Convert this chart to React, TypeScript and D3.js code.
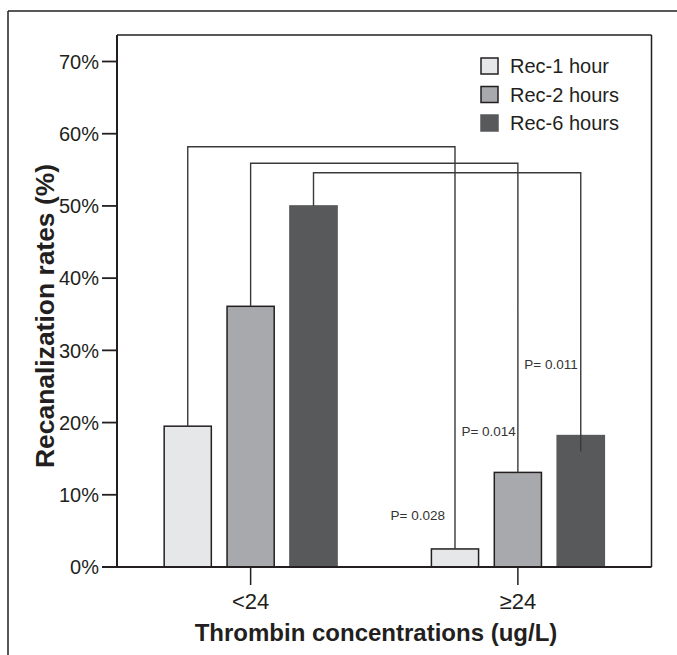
import React from "react";
import * as d3 from "d3";

const groups = ["<24", "≥24"];
const series = ["Rec-1 hour", "Rec-2 hours", "Rec-6 hours"];
const seriesColors = ["#e6e7e8", "#a7a9ac", "#58595b"];
const seriesStroke = ["#231f20", "#231f20", "#58595b"];
// values[group][series]
const valuesLow = [19.5, 36.1, 50.0];
const valuesHigh = [2.5, 13.1, 18.2];
const yTicks = [0, 10, 20, 30, 40, 50, 60, 70];
const bracketLevels = [58.2, 55.9, 54.6];
const bracketRightEnds = [2.5, 13.1, 16.0];
const pLabels = ["P= 0.028", "P= 0.014", "P= 0.011"];
const pLabelLevels = [7.1, 18.8, 28.1];

const W = 677;
const H = 655;
const plot = { left: 117, right: 651.5, top: 35, bottom: 567 };
const FONT = "'Liberation Sans', Arial, Helvetica, sans-serif";
const INK = "#231f20";

export default function App() {
  const y = d3.scaleLinear().domain([0, 70]).range([plot.bottom, 61.5]);
  const x0 = d3.scaleBand<string>().domain(groups).range([plot.left, plot.right]).padding(0);
  const x1 = d3
    .scaleBand<string>()
    .domain(series)
    .range([0, x0.bandwidth()])
    .paddingInner(0.25)
    .paddingOuter(0.75);

  const data = [valuesLow, valuesHigh];
  const cx = (g: number, s: number) => (x0(groups[g]) as number) + (x1(series[s]) as number) + x1.bandwidth() / 2;

  return (
    <svg
      width={W}
      height={H}
      style={{ position: "absolute", left: 0, top: 0, background: "#fff" }}
      fontFamily={FONT}
    >
      {/* outer frame */}
      <line x1={8} x2={W} y1={11} y2={11} stroke={INK} strokeWidth={1.5} />
      <line x1={8} x2={8} y1={11} y2={H} stroke={INK} strokeWidth={1.5} />

      {/* plot box top & right */}
      <line x1={plot.left} x2={plot.right} y1={plot.top} y2={plot.top} stroke={INK} strokeWidth={1.5} />
      <line x1={plot.right} x2={plot.right} y1={plot.top} y2={plot.bottom} stroke={INK} strokeWidth={1.5} />

      {/* bars */}
      {data.map((vals, g) =>
        vals.map((v, s) => (
          <rect
            key={`b${g}-${s}`}
            x={(x0(groups[g]) as number) + (x1(series[s]) as number)}
            y={y(v)}
            width={x1.bandwidth()}
            height={y(0) - y(v)}
            fill={seriesColors[s]}
            stroke={seriesStroke[s]}
            strokeWidth={1.5}
          />
        ))
      )}

      {/* brackets */}
      {series.map((_, s) => {
        const xl = cx(0, s);
        const xr = cx(1, s);
        const yl = y(bracketLevels[s]);
        return (
          <path
            key={`br${s}`}
            d={`M${xl},${y(valuesLow[s])} V${yl} H${xr} V${y(bracketRightEnds[s])}`}
            fill="none"
            stroke="#3a3a3a"
            strokeWidth={1.4}
          />
        );
      })}

      {/* p labels */}
      {pLabels.map((t, s) => (
        <text
          key={`p${s}`}
          x={cx(1, s) - [10, 2, 3][s]}
          y={y(pLabelLevels[s])}
          dy="0.35em"
          textAnchor="end"
          fontSize={13.5}
          fill="#333"
        >
          {t}
        </text>
      ))}

      {/* y axis */}
      <line x1={plot.left} x2={plot.left} y1={plot.top} y2={plot.bottom} stroke={INK} strokeWidth={2} />
      {yTicks.map((t) => (
        <g key={`yt${t}`}>
          <line x1={plot.left - 15} x2={plot.left} y1={y(t)} y2={y(t)} stroke={INK} strokeWidth={1.8} />
          <text x={plot.left - 18} y={y(t)} dy="0.36em" textAnchor="end" fontSize={20} fill={INK}>
            {`${t}%`}
          </text>
        </g>
      ))}

      {/* x axis */}
      <line x1={plot.left - 15} x2={plot.right} y1={plot.bottom} y2={plot.bottom} stroke={INK} strokeWidth={2} />
      {groups.map((g, i) => {
        const gx = cx(i, 1);
        return (
          <g key={`xt${g}`}>
            <line x1={gx} x2={gx} y1={plot.bottom} y2={plot.bottom + 18} stroke={INK} strokeWidth={1.5} />
            <text x={gx} y={609} textAnchor="middle" fontSize={22} fill={INK}>
              {g}
            </text>
          </g>
        );
      })}

      {/* axis titles */}
      <text x={376} y={641} textAnchor="middle" fontSize={24} fontWeight="bold" fill={INK}>
        Thrombin concentrations (ug/L)
      </text>
      <text
        transform={`translate(54,${(plot.top + plot.bottom) / 2 + 15}) rotate(-90)`}
        textAnchor="middle"
        fontSize={25}
        fontWeight="bold"
        fill={INK}
        textLength={304}
        lengthAdjust="spacingAndGlyphs"
      >
        Recanalization rates (%)
      </text>

      {/* legend */}
      {series.map((s, i) => (
        <g key={`lg${i}`} transform={`translate(481,${58 + i * 28.5})`}>
          <rect width={17} height={16} fill={seriesColors[i]} stroke={seriesStroke[i]} strokeWidth={1.5} />
          <text x={29} y={8} dy="0.36em" fontSize={20} fill={INK}>
            {s}
          </text>
        </g>
      ))}
    </svg>
  );
}
